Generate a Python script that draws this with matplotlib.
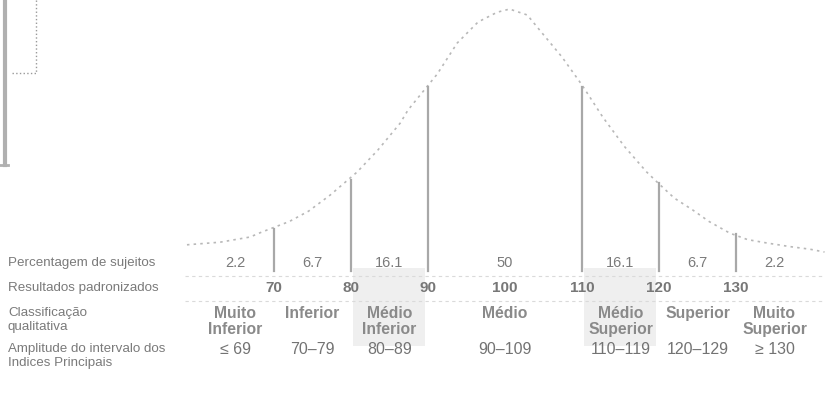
import matplotlib.pyplot as plt
import numpy as np

# curve heights (score, height relative to the peak)
curve_x = [58.7, 63, 66.9, 68.4, 72, 74.5, 77.3, 80.8, 83.5, 86.4, 87.4, 91.2,
           93.8, 96.5, 99.0, 100.6, 102.9, 104.5, 107.4, 110, 112.7, 115.5,
           118.4, 119.9, 122, 124.4, 126.5, 129.2, 131.5, 134.0, 137, 139.6, 141.5]
curve_y = [0.09, 0.10, 0.12, 0.139, 0.18, 0.22, 0.282, 0.371, 0.456, 0.56, 0.61, 0.749,
           0.869, 0.95, 0.988, 1.0, 0.977, 0.919, 0.815, 0.707, 0.583, 0.47,
           0.371, 0.328, 0.27, 0.224, 0.18, 0.135, 0.11, 0.097, 0.083, 0.073, 0.062]

cuts = [70, 80, 90, 110, 120, 130]
cut_tops = [0.15, 0.34, 0.70, 0.70, 0.33, 0.13]

centers = [65, 75, 85, 100, 115, 125, 135]
percent = ["2.2", "6.7", "16.1", "50", "16.1", "6.7", "2.2"]
score_ticks = [70, 80, 90, 100, 110, 120, 130]
classes = ["Muito\nInferior", "Inferior", "Médio\nInferior", "Médio",
           "Médio\nSuperior", "Superior", "Muito\nSuperior"]
ranges = ["≤ 69", "70–79", "80–89", "90–109", "110–119", "120–129", "≥ 130"]
shaded = [(80, 90), (110, 120)]

row_labels = ["Percentagem de sujeitos", "Resultados padronizados",
              "Classificação\nqualitativa",
              "Amplitude do intervalo dos\nIndices Principais"]

plt.rcParams['font.family'] = ['Liberation Sans', 'DejaVu Sans']

fig = plt.figure(figsize=(8.28, 3.94), dpi=100)
ax = fig.add_axes([0, 0, 1, 1])
ax.set_xlim(34.42, 141.95)
ax.set_ylim(-0.486, 1.035)
ax.axis("off")

H = 394.0
def fy(px):
    return 1 - px / H

# shaded boxes behind "Médio Inferior" / "Médio Superior"
for a, b in shaded:
    ax.axvspan(a + 0.3, b - 0.4, ymin=fy(346), ymax=fy(268), color="#efefef", lw=0, zorder=0)

# curve
ax.plot(curve_x, curve_y, color="#b8b8b8", lw=1.2, ls=(0, (1.5, 2.5)), zorder=2)

# vertical cut lines
for c, t in zip(cuts, cut_tops):
    ax.plot([c, c], [-0.01, t], color="#a8a8a8", lw=1.6, zorder=2)

# faint row separators
tr = ax.get_xaxis_transform()
for ypx in [276, 301]:
    ax.plot([58.5, 141.5], [fy(ypx), fy(ypx)], transform=tr, color="#dadada",
            lw=0.8, ls=(0, (3, 3)), zorder=1)

# row labels
lab_y = [263, 288, 307, 343]
for lab, ypx, va in zip(row_labels, lab_y, ["center", "center", "top", "top"]):
    ax.text(8 / 828, fy(ypx), lab, transform=ax.transAxes, ha="left", va=va,
            fontsize=9.6, color="#7a7a7a", linespacing=1.2)

for c, p in zip(centers, percent):
    ax.text(c, fy(263), p, transform=tr, ha="center", va="center",
            fontsize=10.5, color="#7a7a7a")

for s in score_ticks:
    ax.text(s, fy(288), str(s), transform=tr, ha="center", va="center",
            fontsize=11, color="#777777", fontweight="bold")

for c, k in zip(centers, classes):
    ax.text(c, fy(306), k, transform=tr, ha="center", va="top",
            fontsize=11.3, color="#8a8a8a", fontweight="bold", linespacing=1.05)

for c, r in zip(centers, ranges):
    ax.text(c, fy(349), r, transform=tr, ha="center", va="center",
            fontsize=11.5, color="#737373")

# scan marks at the top left
ax.plot([5 / 828, 5 / 828], [fy(0), fy(165)], transform=ax.transAxes,
        color="#b0b0b0", lw=3)
ax.plot([0, 8 / 828], [fy(165), fy(165)], transform=ax.transAxes,
        color="#b0b0b0", lw=2)
ax.plot([36 / 828, 36 / 828], [fy(0), fy(73)], transform=ax.transAxes,
        color="#999999", lw=1, ls=":")
ax.plot([12 / 828, 36 / 828], [fy(73), fy(73)], transform=ax.transAxes,
        color="#999999", lw=1, ls=":")

fig.savefig("out.png", dpi=100, facecolor="white")
